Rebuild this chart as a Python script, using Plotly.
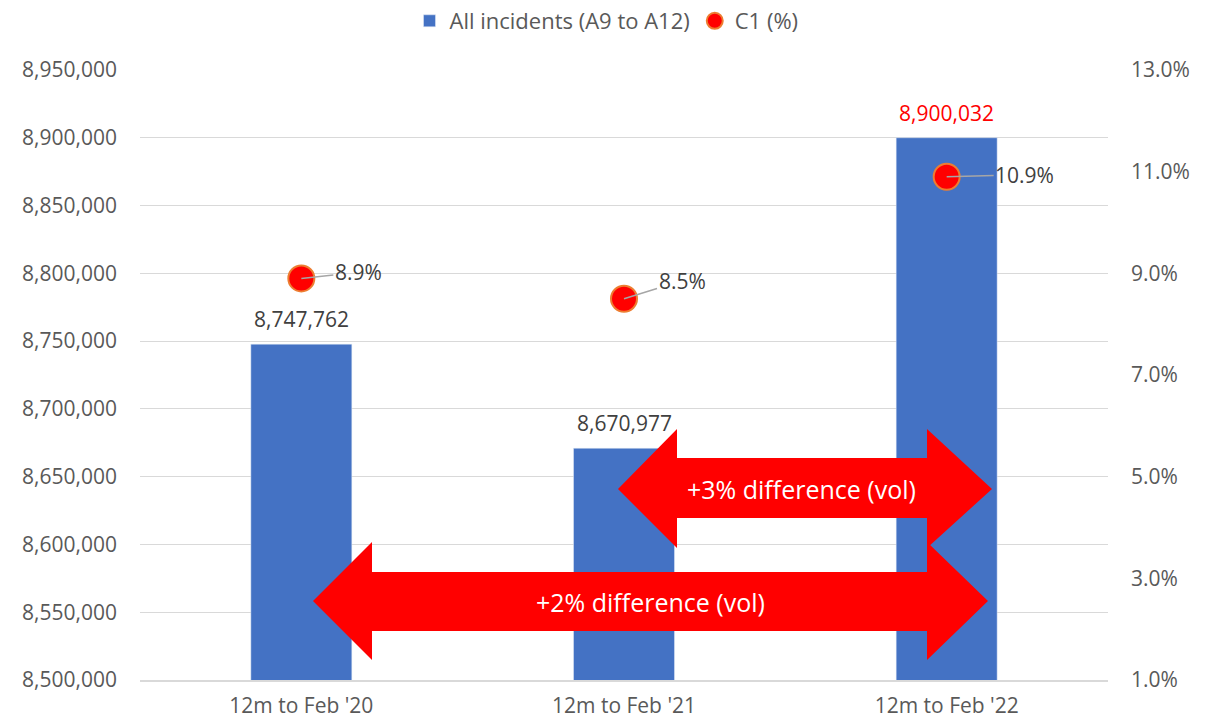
import plotly.graph_objects as go

categories = ["12m to Feb '20", "12m to Feb '21", "12m to Feb '22"]
incidents = [8747762, 8670977, 8900032]
c1_pct = [8.9, 8.5, 10.9]
incident_label_colors = ["#404040", "#404040", "#FF0000"]
pct_label_offsets = [(57, -6), (58, -18), (78, -2)]

W, H = 1213, 724
L, R, T, B = 140, 105, 70, 44
PW, PH = W - L - R, H - T - B
FONT = "Open Sans"
GREY = "#595959"


def px(x):
    return (x - L) / PW


def py(y):
    return (H - B - y) / PH


def arrow_path(pts):
    s = "M " + " L ".join(f"{px(x):.5f},{py(y):.5f}" for x, y in pts) + " Z"
    return s


fig = go.Figure()
fig.add_trace(go.Bar(
    x=categories, y=incidents, name="All incidents (A9 to A12)",
    marker=dict(color="#4472C4"), yaxis="y",
))
fig.add_trace(go.Scatter(
    x=categories, y=c1_pct, name="C1 (%)", mode="markers",
    marker=dict(color="#FF0000", size=26, line=dict(color="#ED7D31", width=2)),
    yaxis="y2", cliponaxis=False,
))

annotations = []
for c, v, col in zip(categories, incidents, incident_label_colors):
    annotations.append(dict(
        x=c, y=v, xref="x", yref="y", text=f"{v:,}", showarrow=False,
        yanchor="bottom", yshift=9, font=dict(family=FONT, size=21, color=col),
    ))
for c, v, (ax, ay) in zip(categories, c1_pct, pct_label_offsets):
    annotations.append(dict(
        x=c, y=v, xref="x", yref="y2", text=f"{v:.1f}%", showarrow=True,
        ax=ax, ay=ay, arrowhead=0, arrowwidth=1.5, arrowcolor="#A6A6A6",
        standoff=0, font=dict(family=FONT, size=21, color="#404040"),
    ))

shapes = [
    dict(type="path", xref="paper", yref="paper", layer="above",
         fillcolor="#FF0000", line=dict(width=0),
         path=arrow_path([(618, 489), (677, 429), (677, 458), (927, 458), (927, 429),
                          (992, 489), (927, 548), (927, 518), (677, 518), (677, 548)])),
    dict(type="path", xref="paper", yref="paper", layer="above",
         fillcolor="#FF0000", line=dict(width=0),
         path=arrow_path([(313, 601), (372, 542), (372, 572), (927, 572), (927, 542),
                          (988, 601), (927, 660), (927, 631), (372, 631), (372, 660)])),
]
annotations.append(dict(x=px(801), y=py(489), xref="paper", yref="paper",
                        xanchor="center", yanchor="middle",
                        text="+3% difference (vol)", showarrow=False,
                        font=dict(family=FONT, size=25, color="white")))
annotations.append(dict(x=px(650), y=py(602), xref="paper", yref="paper",
                        xanchor="center", yanchor="middle",
                        text="+2% difference (vol)", showarrow=False,
                        font=dict(family=FONT, size=25, color="white")))

fig.update_layout(
    width=W, height=H,
    margin=dict(l=L, r=R, t=T, b=B),
    paper_bgcolor="white", plot_bgcolor="white",
    font=dict(family=FONT, size=21, color=GREY),
    bargap=0.687,
    showlegend=True,
    legend=dict(orientation="h", xref="container", yref="container",
                x=0.5, xanchor="center", y=1.0, yanchor="top",
                font=dict(family=FONT, size=22, color=GREY)),
    xaxis=dict(showgrid=False, showline=True, linecolor="#D9D9D9", linewidth=1.5,
               ticks="", ticklabelstandoff=6, automargin=False,
               tickfont=dict(size=21, color=GREY)),
    yaxis=dict(range=[8500000, 8950000], dtick=50000, tickformat=",d",
               showgrid=True, gridcolor="#D9D9D9", gridwidth=1, zeroline=False,
               ticks="", ticklabelstandoff=22, automargin=False,
               tickfont=dict(size=21, color=GREY)),
    yaxis2=dict(range=[1, 13], tick0=1, dtick=2, tickformat=".1f", ticksuffix="%",
                overlaying="y", side="right", showgrid=False, zeroline=False,
                ticks="", ticklabelstandoff=22, automargin=False,
                tickfont=dict(size=21, color=GREY)),
    annotations=annotations,
    shapes=shapes,
)

fig.write_html("out.html")
